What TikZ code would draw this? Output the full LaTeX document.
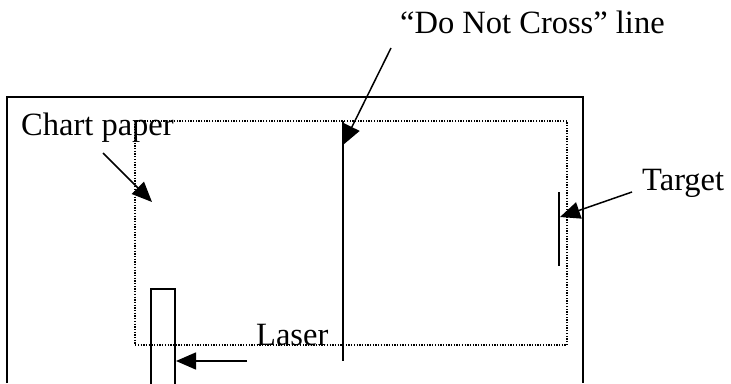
\documentclass[tikz,border=0pt]{standalone}
\usepackage{fontspec}
\setmainfont{Liberation Serif}
\usetikzlibrary{arrows.meta}
\begin{document}
\begin{tikzpicture}[x=1pt,y=-1pt,
  lbl/.style={anchor=base west,inner sep=0pt,font=\fontsize{32.5}{32.5}\selectfont},
  frame/.style={draw=black,line width=1.5pt},
  paper/.style={draw=black,line width=1.4pt,dash pattern=on 1.3pt off 1.4pt},
  bar/.style={draw=black,line width=1.5pt},
  pointer/.style={draw=black,line width=1.5pt,-{Triangle[length=20pt,width=17pt]}}]
\fill[white] (0,0) rectangle (731,383);
\useasboundingbox (0,0) rectangle (731,383);
% chart paper (dotted)
\draw[paper] (135,121) rectangle (567,345);
% outer frame, open at bottom
\draw[frame] (7,383) -- (7,97) -- (583,97) -- (583,383);
% do not cross line
\coordinate (dncTop) at (343,121);
\coordinate (dncBot) at (343,361);
\draw[bar] (dncTop) -- (dncBot);
% target
\coordinate (tgtTop) at (559,192);
\coordinate (tgtBot) at (559,266);
\draw[bar] (tgtTop) -- (tgtBot);
% laser
\draw[bar] (151,390) -- (151,289) -- (175,289) -- (175,390);
% labels
\node[lbl] (dnc) at (400,33) {“Do Not Cross” line};
\node[lbl] (chart) at (21,135) {Chart paper};
\node[lbl] (target) at (642,190) {Target};
\node[lbl] (laser) at (256,345) {Laser};
% pointers
\coordinate (dncFrom) at (391,48);
\coordinate (dncTip) at (343,145);
\begin{scope}
\clip (343,0) rectangle (731,383);
\draw[pointer] (dncFrom) -- (dncTip);
\end{scope}
\coordinate (chartFrom) at (103,153);
\coordinate (chartTip) at (152,202);
\draw[pointer] (chartFrom) -- (chartTip);
\coordinate (tgtFrom) at (632,192);
\coordinate (tgtTip) at (560,217);
\draw[pointer] (tgtFrom) -- (tgtTip);
\coordinate (laserFrom) at (247,361);
\coordinate (laserTip) at (176,361);
\draw[pointer] (laserFrom) -- (laserTip);
\end{tikzpicture}
\end{document}
